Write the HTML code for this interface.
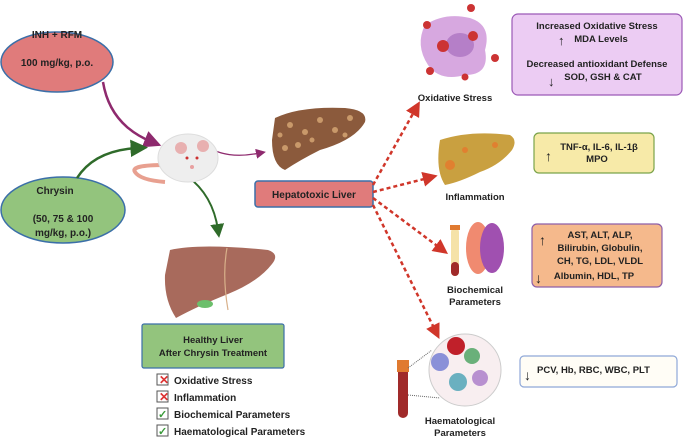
<!DOCTYPE html>
<html><head><meta charset="utf-8"><style>
html,body{margin:0;padding:0;background:#fff;}
svg{display:block;font-family:"Liberation Sans",sans-serif;font-weight:bold;}
</style></head><body>
<svg width="685" height="440" viewBox="0 0 685 440" xmlns="http://www.w3.org/2000/svg">
<defs>
<marker id="mp" markerWidth="7" markerHeight="7" refX="3" refY="3.5" orient="auto"><path d="M0,0 L7,3.5 L0,7z" fill="#8e2a6e"/></marker>
<marker id="mps" markerWidth="10" markerHeight="10" refX="4" refY="5" orient="auto" markerUnits="userSpaceOnUse"><path d="M0,0 L10,5 L0,10z" fill="#8e2a6e"/></marker>
<marker id="mg" markerWidth="7" markerHeight="7" refX="3" refY="3.5" orient="auto"><path d="M0,0 L7,3.5 L0,7z" fill="#2f6b2a"/></marker>
<marker id="mr" markerWidth="6" markerHeight="6" refX="2" refY="3" orient="auto"><path d="M0,0 L6,3 L0,6z" fill="#d0362a"/></marker>
</defs>

<ellipse cx="57" cy="62" rx="56" ry="30" fill="#e07b7b" stroke="#3b6fa8" stroke-width="1.5"/>
<text x="57" y="38" font-size="10" text-anchor="middle" fill="#222">INH + RFM</text>
<text x="57" y="66" font-size="10" text-anchor="middle" fill="#222">100 mg/kg, p.o.</text>
<ellipse cx="63" cy="210" rx="62" ry="33" fill="#93c47d" stroke="#3b6fa8" stroke-width="1.5"/>
<text x="55" y="194" font-size="10" text-anchor="middle" fill="#222">Chrysin</text>
<text x="63" y="222" font-size="10" text-anchor="middle" fill="#222">(50, 75 &amp; 100</text>
<text x="63" y="236" font-size="10" text-anchor="middle" fill="#222">mg/kg, p.o.)</text>

<path d="M103,82 Q110,125 152,142" fill="none" stroke="#8e2a6e" stroke-width="2.5" marker-end="url(#mp)"/>
<path d="M77,178 Q95,150 138,148" fill="none" stroke="#2f6b2a" stroke-width="2.5" marker-end="url(#mg)"/>
<path d="M205,145 Q225,160 260,153" fill="none" stroke="#8e2a6e" stroke-width="1.3" marker-end="url(#mps)"/>
<path d="M187,176 Q213,195 218,230" fill="none" stroke="#2f6b2a" stroke-width="2" marker-end="url(#mg)"/>

<path d="M165,165 Q130,165 135,172 Q140,180 165,182" fill="none" stroke="#e8a090" stroke-width="4"/>
<ellipse cx="188" cy="158" rx="30" ry="24" fill="#eeeeee" stroke="#ddd"/>
<circle cx="181" cy="148" r="6" fill="#e8b0b0"/><circle cx="203" cy="146" r="6" fill="#e8b0b0"/>
<circle cx="187" cy="158" r="1.5" fill="#c33"/><circle cx="197" cy="158" r="1.5" fill="#c33"/>
<circle cx="192" cy="167" r="2" fill="#e8a0a0"/>

<path d="M275,118 Q300,106 345,108 Q368,110 365,122 Q355,140 320,150 Q300,160 285,170 Q272,165 272,140 Z" fill="#8b5a3c"/>
<g fill="#c9996a"><circle cx="290" cy="125" r="3"/><circle cx="305" cy="132" r="3"/><circle cx="320" cy="120" r="3"/><circle cx="335" cy="130" r="3"/><circle cx="350" cy="118" r="3"/><circle cx="285" cy="148" r="3"/><circle cx="298" cy="145" r="3"/><circle cx="312" cy="140" r="2.5"/><circle cx="345" cy="135" r="2.5"/><circle cx="280" cy="135" r="2.5"/></g>
<rect x="255" y="181" width="118" height="26" rx="3" fill="#e07b7b" stroke="#3b6fa8" stroke-width="1.5"/>
<text x="314" y="198" font-size="10" text-anchor="middle" fill="#222">Hepatotoxic Liver</text>

<path d="M170,250 Q200,243 268,250 Q280,254 272,264 Q258,282 228,294 Q198,306 176,318 Q164,300 165,275 Z" fill="#a86a5c"/>
<path d="M227,248 Q222,275 228,310" fill="none" stroke="#d8b08a" stroke-width="1.2"/>
<ellipse cx="205" cy="304" rx="8" ry="4" fill="#6cbf6c"/>
<rect x="142" y="324" width="142" height="44" rx="2" fill="#93c47d" stroke="#3b6fa8" stroke-width="1.2"/>
<text x="213" y="343" font-size="9.5" text-anchor="middle" fill="#222">Healthy Liver</text>
<text x="213" y="356" font-size="9.5" text-anchor="middle" fill="#222">After Chrysin Treatment</text>
<g font-size="10" fill="#222">
<rect x="157" y="374" width="11" height="11" fill="#fff" stroke="#555"/><text x="159" y="384" fill="#d33" font-size="12">✕</text><text x="174" y="384">Oxidative Stress</text>
<rect x="157" y="391" width="11" height="11" fill="#fff" stroke="#555"/><text x="159" y="401" fill="#d33" font-size="12">✕</text><text x="174" y="401">Inflammation</text>
<rect x="157" y="408" width="11" height="11" fill="#fff" stroke="#555"/><text x="158" y="418" fill="#3a9a3a" font-size="11">✓</text><text x="174" y="418">Biochemical Parameters</text>
<rect x="157" y="425" width="11" height="11" fill="#fff" stroke="#555"/><text x="158" y="435" fill="#3a9a3a" font-size="11">✓</text><text x="174" y="435">Haematological Parameters</text>
</g>

<g stroke="#d0362a" stroke-width="2.5" stroke-dasharray="4,3" fill="none">
<path d="M373,185 L415,110" marker-end="url(#mr)"/>
<path d="M373,192 L428,178" marker-end="url(#mr)"/>
<path d="M373,198 L440,248" marker-end="url(#mr)"/>
<path d="M373,205 L435,330" marker-end="url(#mr)"/>
</g>

<path d="M425,25 Q445,12 470,18 Q492,25 485,50 Q490,75 465,75 Q440,82 428,65 Q415,45 425,25Z" fill="#d7a8e0"/>
<ellipse cx="460" cy="45" rx="14" ry="12" fill="#b57fc8"/>
<g fill="#c33"><circle cx="443" cy="46" r="6"/><circle cx="473" cy="36" r="5"/><circle cx="427" cy="25" r="4"/><circle cx="471" cy="8" r="4"/><circle cx="495" cy="58" r="4"/><circle cx="430" cy="71" r="4"/><circle cx="465" cy="77" r="3.5"/></g>
<text x="455" y="101" font-size="9.5" text-anchor="middle" fill="#222">Oxidative Stress</text>
<rect x="512" y="14" width="170" height="81" rx="6" fill="#ecccf3" stroke="#9b59b6" stroke-width="1.2"/>
<text x="597" y="29" font-size="9.5" text-anchor="middle" fill="#222">Increased Oxidative Stress</text>
<text x="601" y="42" font-size="9.5" text-anchor="middle" fill="#222">MDA Levels</text>
<text x="558" y="45" font-size="13" fill="#222">↑</text>
<text x="597" y="67" font-size="9.5" text-anchor="middle" fill="#222">Decreased antioxidant Defense</text>
<text x="603" y="80" font-size="9.5" text-anchor="middle" fill="#222">SOD, GSH &amp; CAT</text>
<text x="548" y="86" font-size="13" fill="#222">↓</text>

<path d="M440,140 Q470,130 510,135 Q518,140 512,150 Q500,165 480,172 Q460,182 445,185 Q435,170 440,140Z" fill="#c9a040"/>
<g fill="#e08030"><circle cx="450" cy="165" r="5"/><circle cx="465" cy="150" r="3"/><circle cx="495" cy="145" r="3"/></g>
<text x="475" y="200" font-size="9.5" text-anchor="middle" fill="#222">Inflammation</text>
<rect x="534" y="133" width="120" height="40" rx="5" fill="#f7eaa8" stroke="#7aa34a" stroke-width="1.2"/>
<text x="545" y="161" font-size="14" fill="#222">↑</text>
<text x="599" y="150" font-size="9.5" text-anchor="middle" fill="#222">TNF-α, IL-6, IL-1β</text>
<text x="597" y="162" font-size="9.5" text-anchor="middle" fill="#222">MPO</text>

<rect x="451" y="228" width="8" height="48" rx="4" fill="#f5e2a8"/>
<rect x="451" y="262" width="8" height="14" rx="4" fill="#a02a2a"/>
<rect x="450" y="225" width="10" height="5" fill="#e07a30"/>
<ellipse cx="478" cy="248" rx="12" ry="26" fill="#f08a70"/>
<ellipse cx="492" cy="248" rx="12" ry="25" fill="#a050b0"/>
<text x="475" y="293" font-size="9.5" text-anchor="middle" fill="#222">Biochemical</text>
<text x="475" y="305" font-size="9.5" text-anchor="middle" fill="#222">Parameters</text>
<rect x="532" y="224" width="130" height="63" rx="5" fill="#f5b98c" stroke="#8e5fa8" stroke-width="1.2"/>
<text x="539" y="245" font-size="14" fill="#222">↑</text>
<text x="600" y="238" font-size="9.5" text-anchor="middle" fill="#222">AST, ALT, ALP,</text>
<text x="600" y="251" font-size="9.5" text-anchor="middle" fill="#222">Bilirubin, Globulin,</text>
<text x="600" y="264" font-size="9.5" text-anchor="middle" fill="#222">CH, TG, LDL, VLDL</text>
<text x="535" y="283" font-size="14" fill="#222">↓</text>
<text x="594" y="279" font-size="9.5" text-anchor="middle" fill="#222">Albumin, HDL, TP</text>

<rect x="398" y="362" width="10" height="56" rx="5" fill="#a02a2a"/>
<rect x="397" y="360" width="12" height="12" fill="#e07a30"/>
<circle cx="465" cy="370" r="36" fill="#f8eef0" stroke="#ccc"/>
<circle cx="456" cy="346" r="9" fill="#c0202a"/>
<circle cx="472" cy="356" r="8" fill="#6ab07a"/>
<circle cx="440" cy="362" r="9" fill="#8a90d8"/>
<circle cx="480" cy="378" r="8" fill="#b890d0"/>
<circle cx="458" cy="382" r="9" fill="#6ab0c0"/>
<line x1="408" y1="395" x2="440" y2="398" stroke="#666" stroke-dasharray="1,1"/>
<line x1="408" y1="368" x2="432" y2="350" stroke="#666" stroke-dasharray="1,1"/>
<text x="460" y="424" font-size="9.5" text-anchor="middle" fill="#222">Haematological</text>
<text x="460" y="436" font-size="9.5" text-anchor="middle" fill="#222">Parameters</text>
<rect x="520" y="356" width="157" height="31" rx="4" fill="#fffdf6" stroke="#8fa8d8" stroke-width="1.2"/>
<text x="524" y="380" font-size="14" fill="#222">↓</text>
<text x="537" y="373" font-size="9.5" fill="#222">PCV, Hb, RBC, WBC, PLT</text>
</svg>
</body></html>
